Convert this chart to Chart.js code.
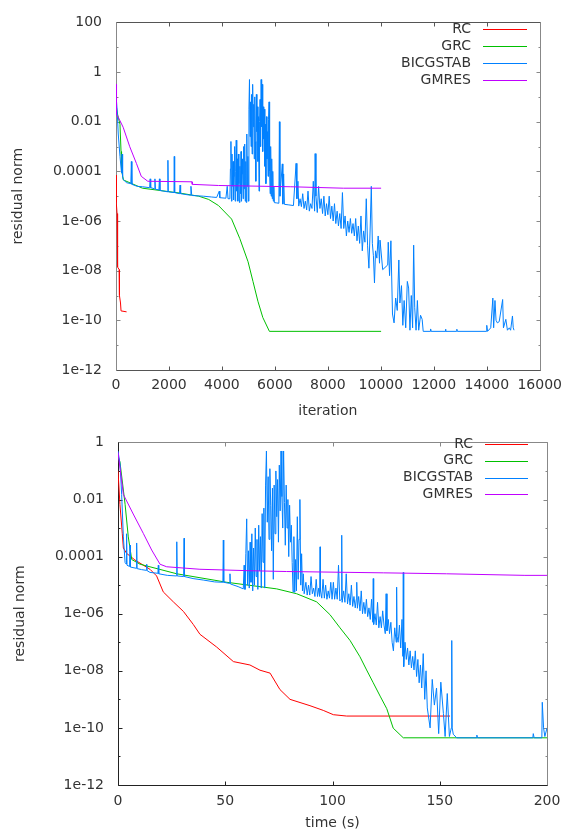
<!DOCTYPE html>
<html>
<head>
<meta charset="utf-8">
<script src="https://cdn.jsdelivr.net/npm/chart.js@4.4.1/dist/chart.umd.min.js"></script>
<style>
  html, body { margin: 0; padding: 0; background: #fff; }
  #wrap { position: relative; width: 569px; height: 832px; }
  canvas { position: absolute; left: 0; }
  #iterChart { top: 0; }
  #timeChart { top: 420px; }
</style>
</head>
<body>
<div id="wrap">
  <canvas id="iterChart" width="569" height="420"></canvas>
  <canvas id="timeChart" width="569" height="412"></canvas>
</div>
<script>
const seriesNames = ['RC', 'GRC', 'BICGSTAB', 'GMRES'];
const seriesColors = ['#ff0000', '#00c000', '#0080ff', '#c000ff'];

// --- top panel: residual norm vs iteration ---
const rcIt = [0, 11, 40, 60, 120, 130, 170, 190, 400];
const rcItRes = [7e-5, 5.5e-6, 2e-6, 1.4e-8, 1.1e-8, 1e-9, 5e-10, 2.4e-10, 2.2e-10];

const grcIt = [0, 60, 150, 190, 210, 280, 1000, 2380, 3125, 3500, 3870, 4365, 4676, 4986, 5172, 5358, 5544, 5793, 10010];
const grcItRes = [5e-2, 2e-2, 7.9e-3, 6.3e-4, 1.1e-4, 4.5e-5, 2.1e-5, 1.35e-5, 1e-5, 7.4e-6, 4.2e-6, 1.2e-6, 1.95e-7, 2.3e-8, 3.7e-9, 5.9e-10, 1.3e-10, 3.6e-11, 3.6e-11];

const bicgIt = [
  0, 40, 85, 150, 210, 230, 250, 270, 400, 560,
  580, 600, 800, 1000, 1270, 1290, 1310, 1450, 1470, 1490,
  1620, 1640, 1660, 1950, 1960, 1975, 2190, 2200, 2215, 2400,
  2420, 2440, 2800, 2830, 2860, 3300, 3600, 3800, 3900, 3920,
  4150, 4200, 4230,
  4300, 4320, 4340, 4360, 4380, 4400, 4420, 4440, 4460, 4480,
  4500, 4520, 4540, 4560, 4580, 4600, 4620, 4640, 4660, 4680,
  4700, 4720, 4740, 4760, 4780, 4800, 4820, 4840, 4860, 4880,
  4900, 4920, 4940, 4960, 4980, 5000, 5020, 5040, 5060, 5080,
  5100, 5120, 5140, 5160, 5180, 5200, 5220, 5240, 5260, 5280,
  5300, 5320, 5340, 5360, 5380, 5400, 5420, 5440, 5460, 5480,
  5500, 5520, 5540, 5560, 5580, 5600, 5620, 5640, 5660, 5680,
  5700, 5720, 5740, 5760, 5780, 5800, 5820, 5840, 5860, 5880,
  5900, 5920, 5940, 5960, 5980,
  6050, 6150, 6170, 6190, 6280, 6300, 6330, 6360, 6500, 6700,
  6800, 6830, 6870,
  6900, 6950, 7000, 7050, 7100, 7150, 7200, 7250, 7300, 7350,
  7400, 7450, 7500, 7520, 7550, 7600, 7650, 7700, 7750, 7800,
  7850, 7900, 7950, 8000, 8050, 8100, 8150, 8200, 8250, 8300,
  8350, 8400, 8450, 8500, 8550, 8600, 8650, 8700, 8750, 8800,
  8850, 8900, 8950, 9000, 9050, 9100, 9150, 9200, 9250, 9300,
  9350, 9400, 9450, 9500, 9550, 9600, 9640, 9680, 9720, 9760,
  9800, 9850, 9900, 9950,
  9970, 10070, 10260, 10280, 10330, 10380, 10440, 10500, 10560, 10620,
  10680, 10720, 10780, 10830, 10880, 10940, 11000, 11050, 11100, 11150,
  11200, 11240, 11280, 11330, 11380, 11430, 11500, 11560, 11600, 11870,
  11880, 11900, 12430, 12440, 12460, 12860, 12870, 12890, 13980, 14000,
  14030, 14150, 14230, 14260, 14310, 14350, 14400, 14470, 14600, 14630,
  14720, 14780, 14850, 14900, 14970, 15000, 15030
];
const bicgItRes = [
  0.126, 0.032, 3.2e-3, 4e-4, 8.5e-5, 5e-4, 6.3e-5, 4.7e-5, 3.5e-5, 3.2e-5,
  2.5e-4, 3e-5, 2.5e-5, 2.4e-5, 2.2e-5, 5e-5, 2.2e-5, 2e-5, 5e-5, 1.9e-5,
  1.8e-5, 5e-5, 1.7e-5, 1.5e-5, 2.8e-4, 1.5e-5, 1.4e-5, 4e-4, 1.4e-5, 1.26e-5,
  2.8e-5, 1.26e-5, 1.1e-5, 2.5e-5, 1.07e-5, 1e-5, 9.3e-6, 8.9e-6, 1.6e-5, 8.7e-6,
  8.3e-6, 2.5e-5, 7.9e-6,
  7.9e-6, 1.26e-4, 1.6e-3, 6.3e-6, 5e-4, 2.5e-5, 2.5e-4, 7.1e-6, 6.3e-5, 1e-3,
  6.3e-6, 1e-4, 1.8e-3, 1.6e-5, 3.2e-4, 6.3e-6, 5e-4, 3.2e-5, 5.6e-6, 1.6e-4,
  1.26e-5, 6.3e-4, 6.3e-6, 7.9e-5, 3.2e-4, 7.9e-6, 1e-3, 2e-5, 1.26e-3, 6.3e-6,
  2.5e-4, 5.6e-6, 3.2e-3, 2.5e-5, 4e-4, 6.3e-6, 0.032, 0.5, 2.5e-3, 0.063,
  1e-3, 0.126, 5e-4, 0.32, 6.3e-3, 0.05, 3.2e-4, 0.1, 1.6e-3, 4e-5,
  0.126, 4e-3, 0.04, 2.5e-4, 0.016, 1.6e-5, 0.01, 0.079, 1e-3, 0.5,
  6.3e-3, 0.32, 6.3e-4, 0.04, 2e-3, 0.032, 1.6e-4, 7.9e-3, 3.2e-5, 0.016,
  3.2e-4, 4e-3, 6.3e-5, 0.0126, 0.063, 1e-4, 1.26e-5, 1e-3, 1e-5, 3.2e-4,
  7.9e-6, 1e-4, 6.3e-6, 2.5e-5, 5.5e-6,
  5.4e-6, 5.2e-6, 0.01, 1e-5, 2e-4, 4.8e-6, 7.9e-5, 4.7e-6, 4.5e-6, 4.2e-6,
  2.1e-4, 7.9e-6, 4e-5,
  4e-6, 7.9e-6, 3.8e-6, 1.26e-5, 3.2e-6, 6.3e-6, 2.8e-6, 1.6e-5, 2.5e-6, 5e-6,
  3.2e-6, 4e-5, 2.5e-6, 5.2e-4, 1e-5, 2.2e-6, 2.5e-5, 3.2e-6, 7.9e-6, 2e-6,
  1e-5, 1.6e-6, 5e-6, 1.8e-6, 1e-5, 1.26e-6, 4e-6, 1e-6, 5e-6, 7.9e-7,
  2.5e-6, 6.3e-7, 2e-6, 5e-7, 1.4e-5, 5e-7, 1.6e-6, 2.5e-7, 1e-6, 3.5e-7,
  1.26e-6, 3.2e-7, 7.9e-7, 2.5e-7, 1.26e-6, 1.6e-7, 6.3e-7, 1.26e-7, 1.6e-6, 6.3e-8,
  4e-7, 1.4e-7, 7.9e-6, 1e-7, 1.26e-8, 6.3e-7, 2.5e-5, 1.26e-7, 4e-8, 3.2e-9,
  6.3e-8, 3.2e-8, 2.5e-7, 2e-8,
  1.7e-7, 1.1e-8, 1.7e-8, 1.4e-7, 6.3e-9, 1.6e-7, 1.8e-10, 7.9e-11, 7.9e-10, 2.5e-10,
  2.7e-8, 5e-10, 2.5e-9, 6.3e-11, 6.3e-10, 5e-11, 3.7e-9, 2e-9, 4e-11, 1e-9,
  5e-11, 1.07e-7, 3.2e-10, 4e-11, 6.3e-10, 4e-11, 1.6e-10, 1.1e-10, 3.6e-11, 3.6e-11,
  4.5e-11, 3.6e-11, 3.6e-11, 4.4e-11, 3.6e-11, 3.6e-11, 4.4e-11, 3.6e-11, 3.6e-11, 6.3e-11,
  3.6e-11, 5e-11, 7.9e-10, 5e-11, 6.3e-10, 1e-10, 7.9e-11, 8.9e-11, 6.9e-10, 5e-11,
  1.1e-10, 4e-11, 5e-11, 4e-11, 1.5e-10, 5e-11, 4e-11
];

const gmresIt = [0, 10, 30, 150, 270, 520, 770, 955, 1200, 2870, 2880, 3870, 6600, 8585, 10010];
const gmresItRes = [0.32, 0.05, 0.02, 0.011, 6e-3, 9.8e-4, 2.1e-4, 6.3e-5, 4e-5, 3.8e-5, 3e-5, 2.7e-5, 2.4e-5, 2.1e-5, 2.1e-5];

const iterTicks = [0, 2000, 4000, 6000, 8000, 10000, 12000, 14000, 16000];
const iterYTicks = [1e-12, 1e-10, 1e-8, 1e-6, 1e-4, 1e-2, 1, 100];
const iterYLabels = ['1e-12', '1e-10', '1e-08', '1e-06', '0.0001', '0.01', '1', '100'];
const iterYMinor = [1e-11, 1e-9, 1e-7, 1e-5, 1e-3, 0.1, 10];

// --- bottom panel: residual norm vs time (s) ---
const rcT = [0, 0.9, 2, 2.5, 4, 7.9, 14.9, 18, 21.1, 25.8, 30.5, 35.1, 38.2, 46, 53.8, 61.5, 66.2, 70.9, 75.5, 80.2, 89.5, 95.7, 100.4, 106.6, 154.8];
const rcTRes = [0.1, 6.8e-3, 6.3e-4, 2e-4, 1.3e-4, 7.6e-5, 3.6e-5, 2.1e-5, 5.8e-6, 2.6e-6, 1.2e-6, 4.2e-7, 1.9e-7, 6.8e-8, 2.1e-8, 1.6e-8, 1.05e-8, 8.3e-9, 2.2e-9, 1e-9, 6e-10, 4.1e-10, 2.9e-10, 2.6e-10, 2.6e-10];

const grcT = [0, 0.9, 3.3, 4.8, 6.4, 10.3, 27.4, 50.7, 74, 83.3, 92.6, 98.8, 103.5, 108.2, 112.8, 115.9, 119, 122.2, 125.3, 128.3, 133, 200];
const grcTRes = [0.32, 0.21, 6.8e-3, 4.9e-4, 7.9e-5, 5.4e-5, 2.5e-5, 1.26e-5, 7.4e-6, 5e-6, 2.6e-6, 9.3e-7, 3.2e-7, 1.15e-7, 3.1e-8, 1.07e-8, 3.8e-9, 1.3e-9, 4.7e-10, 9.8e-11, 4.5e-11, 4.5e-11];

const bicgT = [
  0, 1, 1.7, 2.5, 3.3, 3.8, 4.0, 4.2, 5.4, 5.6,
  5.8, 8.5, 8.7, 8.9, 11, 13.2, 13.4, 13.6, 14.9, 18.6,
  18.8, 19.0, 23, 27.2, 27.4, 27.6, 30.6, 30.8, 31.0, 35,
  40, 45, 48.9, 49.1, 49.3, 52.0, 52.2, 52.4, 56,
  58.4, 58.8, 59.2, 59.6, 60.0, 60.4, 60.8, 61.2, 61.6, 62.0,
  62.4, 62.8, 63.2, 63.6, 64.0, 64.4, 64.8, 65.2, 65.6, 66.0,
  66.4, 66.8, 67.2, 67.6, 68.0, 68.4, 68.8, 69.2, 69.6, 70.0,
  70.4, 70.8, 71.2, 71.6, 72.0, 72.4, 72.8, 73.2, 73.6, 74.0,
  74.4, 74.8, 75.2, 75.6, 76.0, 76.4, 76.8, 77.2, 77.6, 78.0,
  78.4, 78.8, 79.2, 79.6, 80.0, 80.4, 80.8, 81.2, 81.6, 82.0,
  82.4, 82.8, 83.2, 83.6, 84.0, 84.4, 84.8, 85.2, 85.6, 86.0,
  86.4, 86.8,
  87.0, 87.6, 88.2, 88.8, 89.4, 90.0, 90.6, 91.2, 91.8, 92.4,
  93.0, 93.6, 94.0, 94.2, 94.4, 95.0, 95.6, 96.2, 96.8, 97.4,
  98.0, 98.6, 99.2, 99.8, 100.4, 101.0, 101.6, 102.2, 102.8, 103.4,
  104.1, 104.3, 104.5, 105.2, 105.8, 106.4, 107.0, 107.6, 108.2, 108.8,
  109.4, 110.0, 110.6, 111.1, 111.3, 111.6, 112.2, 112.8, 113.4, 114.0,
  114.6, 115.2, 115.8, 116.4, 117.0, 117.6, 118.2, 118.8, 119.0, 119.2,
  119.8, 120.4, 121.0, 121.6, 122.2, 122.8, 123.4, 124.0, 124.6, 125.0,
  125.4, 126.0, 126.6, 127.2, 127.8, 128.4, 129.0, 129.7, 129.9, 130.1,
  130.6, 131.2, 131.8, 132.4, 132.8, 133.0, 133.2, 133.8, 134.4, 135.0,
  135.6, 136.2, 136.8, 137.4, 138.0, 138.6, 139.2, 139.8, 140.4, 141.0,
  141.6, 142.3, 143.0, 143.6, 144.2,
  145.5, 146.5, 147.5, 148.5, 149.5, 150.5, 151.7, 152.5, 153.5, 154.5,
  155.4, 155.6, 155.8, 156.3, 157.9, 167, 167.3, 167.6, 193.4, 193.6,
  194, 197.6, 197.8, 198.4, 199, 200
];
const bicgTRes = [
  0.5, 0.16, 0.015, 4.9e-4, 6.2e-5, 5.5e-5, 6.3e-4, 5e-5, 4.5e-5, 2.5e-4,
  4.3e-5, 3.9e-5, 3e-4, 3.8e-5, 3.5e-5, 3.3e-5, 5.4e-5, 3.2e-5, 2.8e-5, 2.6e-5,
  5e-5, 2.5e-5, 2.2e-5, 2.1e-5, 3.3e-4, 2.1e-5, 2e-5, 4.4e-4, 2e-5, 1.7e-5,
  1.5e-5, 1.3e-5, 1.26e-5, 3.8e-4, 1.26e-5, 1.15e-5, 2.5e-5, 1.1e-5, 8.9e-6,
  7.4e-6, 5e-5, 7.1e-6, 1.26e-4, 2.1e-3, 1e-5, 1.6e-4, 7.9e-6, 3.2e-4, 1.26e-5,
  6.3e-4, 6.3e-6, 2e-4, 1e-5, 1e-3, 2e-5, 4e-4, 7.1e-6, 1.26e-3, 3.2e-5,
  5e-4, 7.9e-6, 3.2e-3, 6.3e-5, 5e-3, 7.9e-6, 0.032, 0.5, 1.6e-3, 0.063,
  4e-4, 0.12, 6.3e-3, 1.6e-4, 0.025, 1.6e-5, 0.032, 6.3e-4, 0.1, 2.5e-3,
  0.05, 3.2e-4, 0.16, 4e-3, 0.5, 0.0126, 1e-3, 0.5, 7.9e-3, 2.5e-4,
  0.032, 1e-3, 0.01, 1e-4, 6.3e-3, 3.2e-4, 1.26e-3, 6.3e-5, 5.8e-6, 5e-4,
  5.6e-6, 7.9e-5, 6.3e-6, 2.5e-3, 1.6e-5, 4e-4, 0.01, 1e-5, 1.26e-4, 6.3e-6,
  2.5e-5, 5e-6,
  5e-6, 1.26e-5, 4.5e-6, 1e-5, 4.5e-6, 2e-5, 5e-6, 7.9e-6, 4e-6, 1.6e-5,
  4e-6, 7.9e-6, 4e-6, 2.2e-4, 6.3e-6, 3.5e-6, 1.6e-5, 3.5e-6, 1e-5, 3.2e-6,
  6.3e-6, 3.5e-6, 1.26e-5, 3.2e-6, 1.26e-5, 3.2e-6, 7.9e-6, 3.2e-6, 5e-5, 2.8e-6,
  3.2e-6, 5.6e-4, 2.5e-6, 6.3e-6, 2.5e-6, 2.5e-5, 2.2e-6, 5e-6, 2e-6, 1e-5,
  1.8e-6, 4e-6, 1.6e-6, 3.2e-6, 1.26e-5, 1.55e-6, 4e-6, 1.26e-6, 6.3e-6, 1e-6,
  2.5e-6, 1e-6, 3.2e-6, 7.9e-7, 1.6e-6, 6.3e-7, 3.2e-6, 5e-7, 1.7e-5, 4.2e-7,
  1e-6, 4e-7, 2.5e-6, 3.2e-7, 7.9e-7, 3.2e-7, 1.26e-6, 4e-7, 2e-7, 5e-6,
  2.5e-7, 6.3e-7, 2e-7, 5e-7, 1e-7, 5e-8, 3.2e-7, 1e-7, 8.5e-6, 1.6e-7,
  1e-7, 4e-7, 6.3e-8, 6.3e-7, 3.2e-8, 2.8e-5, 1.4e-8, 1e-7, 2.5e-8, 6.3e-8,
  1.6e-8, 5e-8, 1.26e-8, 3.2e-8, 1.07e-8, 5e-8, 6.3e-9, 2.5e-8, 3.8e-9, 1.6e-8,
  2.5e-9, 4e-8, 1e-9, 1e-8, 5e-10,
  1e-10, 5e-9, 6.3e-10, 2.5e-9, 6.3e-11, 4e-9, 3.2e-10, 5e-11, 1.6e-9, 5e-11,
  1e-10, 1.15e-7, 1e-10, 6e-11, 4.5e-11, 4.5e-11, 5.6e-11, 4.5e-11, 4.5e-11, 6.3e-11,
  4.5e-11, 4.5e-11, 7.9e-10, 1e-10, 5e-11, 1e-10
];

const gmresT = [0, 2.5, 7.1, 11.8, 15.7, 19.6, 22.7, 38.2, 61.5, 78.6, 123.7, 153.2, 189.7, 200];
const gmresTRes = [0.45, 0.015, 3.1e-3, 6.5e-4, 1.7e-4, 5.4e-5, 4.4e-5, 3.6e-5, 3.2e-5, 3e-5, 2.7e-5, 2.5e-5, 2.2e-5, 2.2e-5];

const timeTicks = [0, 50, 100, 150, 200];
const timeYTicks = [1e-12, 1e-10, 1e-8, 1e-6, 1e-4, 1e-2, 1];
const timeYLabels = ['1e-12', '1e-10', '1e-08', '1e-06', '0.0001', '0.01', '1'];
const timeYMinor = [1e-11, 1e-9, 1e-7, 1e-5, 1e-3, 0.1];

const textColor = '#333';
const font = { family: '"DejaVu Sans", sans-serif', size: 14 };

// gnuplot style box with inward tics on all four sides, drawn under the curves
const framePlugin = {
  id: 'gnuFrame',
  beforeDatasetsDraw(chart, args, o) {
    const { ctx, chartArea: a, scales: { x, y } } = chart;
    const L = Math.round(a.left) + 0.5, R = Math.round(a.right) + 0.5;
    const T = Math.round(a.top) + 0.5, B = Math.round(a.bottom) + 0.5;
    const seg = (c, x1, y1, x2, y2) => {
      ctx.strokeStyle = c;
      ctx.beginPath(); ctx.moveTo(x1, y1); ctx.lineTo(x2, y2); ctx.stroke();
    };
    ctx.save();
    ctx.lineWidth = 1;
    o.xTicks.forEach(v => {
      const px = Math.round(x.getPixelForValue(v)) + 0.5;
      seg(o.bottom, px, B, px, B - 4);
      seg(o.top, px, T, px, T + 4);
    });
    o.yTicks.forEach(v => {
      const py = Math.round(y.getPixelForValue(v)) + 0.5;
      seg(o.left, L, py, L + 4, py);
      seg(o.right, R, py, R - 4, py);
    });
    o.yMinor.forEach(v => {
      const py = Math.round(y.getPixelForValue(v)) + 0.5;
      seg(o.left, L, py, L + 2, py);
      seg(o.right, R, py, R - 2, py);
    });
    seg(o.top, L, T, R, T);
    seg(o.right, R, T, R, B);
    seg(o.bottom, L, B, R, B);
    seg(o.left, L, T, L, B);
    ctx.restore();
  }
};

// key in the top right corner: right aligned title, then a line sample
const keyPlugin = {
  id: 'gnuKey',
  afterDraw(chart, args, o) {
    const ctx = chart.ctx;
    ctx.save();
    ctx.font = '14px "DejaVu Sans", sans-serif';
    ctx.textAlign = 'right';
    ctx.textBaseline = 'middle';
    chart.data.datasets.forEach((ds, i) => {
      const yy = o.top + i * o.step;
      ctx.fillStyle = textColor;
      ctx.fillText(ds.label, o.textRight, yy);
      ctx.fillStyle = seriesColors[i];
      ctx.fillRect(o.lineFrom, Math.round(yy), o.lineTo - o.lineFrom, 1);
    });
    ctx.restore();
  }
};

function residualChart(id, cfg) {
  return new Chart(document.getElementById(id), {
    type: 'line',
    data: {
      datasets: cfg.series.map((s, i) => ({
        label: seriesNames[i],
        data: s[0].map((v, j) => ({ x: v, y: s[1][j] })),
        borderColor: seriesColors[i],
        borderWidth: 1,
        pointRadius: 0,
        tension: 0,
        fill: false,
        order: 3 - i
      }))
    },
    options: {
      responsive: false,
      animation: false,
      events: [],
      layout: { padding: cfg.padding },
      plugins: {
        legend: { display: false },
        tooltip: { enabled: false },
        gnuFrame: cfg.frame,
        gnuKey: cfg.key
      },
      scales: {
        x: {
          type: 'linear',
          min: cfg.xTicks[0],
          max: cfg.xTicks[cfg.xTicks.length - 1],
          afterBuildTicks: s => { s.ticks = cfg.xTicks.map(v => ({ value: v })); },
          afterFit: s => { s.height = cfg.xHeight; },
          grid: { display: false, drawTicks: false },
          border: { display: false },
          ticks: { autoSkip: false, maxRotation: 0, padding: cfg.xPad, color: textColor, font, callback: v => String(v) },
          title: { display: true, text: cfg.xTitle, color: textColor, font, padding: 0 }
        },
        y: {
          type: 'logarithmic',
          min: cfg.yTicks[0],
          max: cfg.yTicks[cfg.yTicks.length - 1],
          afterBuildTicks: s => { s.ticks = cfg.yTicks.map(v => ({ value: v })); },
          afterFit: s => { s.width = cfg.yWidth; },
          grid: { display: false, drawTicks: false },
          border: { display: false },
          ticks: { autoSkip: false, padding: 14, color: textColor, font, callback: (v, i) => cfg.yLabels[i] },
          title: { display: true, text: 'residual norm', color: textColor, font, padding: { top: cfg.yTitlePad, bottom: 0 } }
        }
      }
    },
    plugins: [framePlugin, keyPlugin]
  });
}

residualChart('iterChart', {
  series: [[rcIt, rcItRes], [grcIt, grcItRes], [bicgIt, bicgItRes], [gmresIt, gmresItRes]],
  xTicks: iterTicks, yTicks: iterYTicks, yLabels: iterYLabels,
  xTitle: 'iteration', xHeight: 50, xPad: 7, yWidth: 116, yTitlePad: 10,
  padding: { top: 17, right: 23, bottom: 0, left: 0 },
  frame: { xTicks: iterTicks, yTicks: iterYTicks, yMinor: iterYMinor, top: '#555', bottom: '#555', left: '#888', right: '#888' },
  key: { textRight: 471, lineFrom: 483, lineTo: 527, top: 29, step: 17 }
});

residualChart('timeChart', {
  series: [[rcT, rcTRes], [grcT, grcTRes], [bicgT, bicgTRes], [gmresT, gmresTRes]],
  xTicks: timeTicks, yTicks: timeYTicks, yLabels: timeYLabels,
  xTitle: 'time (s)', xHeight: 47, xPad: 8, yWidth: 118, yTitlePad: 11.5,
  padding: { top: 13, right: 22, bottom: 0, left: 0 },
  frame: { xTicks: timeTicks, yTicks: timeYTicks, yMinor: timeYMinor, top: '#888', bottom: '#222', left: '#222', right: '#888' },
  key: { textRight: 473, lineFrom: 485, lineTo: 528, top: 24, step: 16.8 }
});
</script>
</body>
</html>
